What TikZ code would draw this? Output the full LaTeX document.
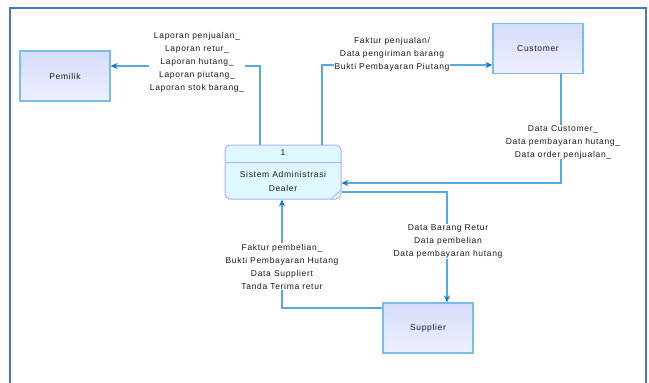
\documentclass[tikz,border=0pt]{standalone}
\usepackage{fontspec}
\setmainfont[LetterSpace=8]{Liberation Sans}
\usetikzlibrary{arrows.meta,positioning}

\definecolor{frameline}{RGB}{70,120,190}
\definecolor{boxline}{RGB}{120,190,235}
\definecolor{boxtop}{RGB}{214,220,250}
\definecolor{boxbot}{RGB}{238,240,253}
\definecolor{procline}{RGB}{175,175,250}
\definecolor{procfill}{RGB}{222,248,255}
\definecolor{flowline}{RGB}{85,170,225}
\definecolor{tipcol}{RGB}{20,120,200}
\definecolor{txt}{RGB}{25,25,25}

\begin{document}
\begin{tikzpicture}[x=1pt,y=-1pt,>={Stealth[length=7pt,width=6pt,color=tipcol]},
	entity/.style={rectangle,draw=boxline,line width=1.2pt,top color=boxtop,bottom color=boxbot,minimum width=90pt,minimum height=50pt,text=txt,font=\fontsize{8.5}{10}\selectfont},
	procbox/.style={rectangle,rounded corners=5pt,draw=procline,line width=1pt,fill=procfill,minimum width=116pt,minimum height=54pt},
	flow/.style={->,draw=flowline,line width=1.2pt},
	flowtext/.style={fill=white,inner sep=0.5pt,align=center,text=txt,font=\fontsize{8.5}{13}\selectfont}]

	\useasboundingbox (0,0) rectangle (649,383);
	\draw[frameline,line width=2pt] (10,383) -- (10,8) -- (646,8) -- (646,383);

	\node [entity] (pemilik) at (65,76) {Pemilik};
	\node [entity] (customer) at (538,48.5) {Customer};
	\node [entity] (supplier) at (428,328) {Supplier};

	\node [procbox] (proc) at (283,172) {};
	\draw[procline,line width=1pt] (proc.west |- 0,162) -- (proc.east |- 0,162);
	\draw[procline,line width=0.8pt] (331,199) -- (341,190);
	\node [text=txt,font=\fontsize{8.5}{10}\selectfont] (procnum) at (283,153) {1};
	\node [align=center,text=txt,font=\fontsize{8.5}{14}\selectfont] (procname) at (283,181) {Sistem Administrasi\\Dealer};

	\draw[flow] ([xshift=-23pt]proc.north) |- ([yshift=10pt]pemilik.east);
	\draw[flow] ([xshift=39pt]proc.north) |- ([yshift=-16.5pt]customer.west);
	\draw[flow] ([xshift=23pt]customer.south) |- ([yshift=-11pt]proc.east);
	\draw[flow] ([yshift=-20pt]proc.east) -| ([xshift=19pt]supplier.north);
	\draw[flow] ([yshift=20pt]supplier.west) -| ([xshift=-1pt]proc.south);

	\node [flowtext] (lapor) at (197,62.5) {Laporan penjualan\_\\Laporan retur\_\\Laporan hutang\_\\Laporan piutang\_\\Laporan stok barang\_};
	\node [flowtext] (faktur) at (392,54) {Faktur penjualan/\\Data pengiriman barang\\Bukti Pembayaran Piutang};
	\node [flowtext] (datacust) at (563,142) {Data Customer\_\\Data pembayaran hutang\_\\Data order penjualan\_};
	\node [flowtext] (retur) at (448,241.5) {Data Barang Retur\\Data pembelian\\Data pembayaran hutang};
	\node [flowtext] (beli) at (282,266.5) {Faktur pembelian\_\\Bukti Pembayaran Hutang\\Data Suppliert\\Tanda Terima retur};

\end{tikzpicture}
\end{document}
